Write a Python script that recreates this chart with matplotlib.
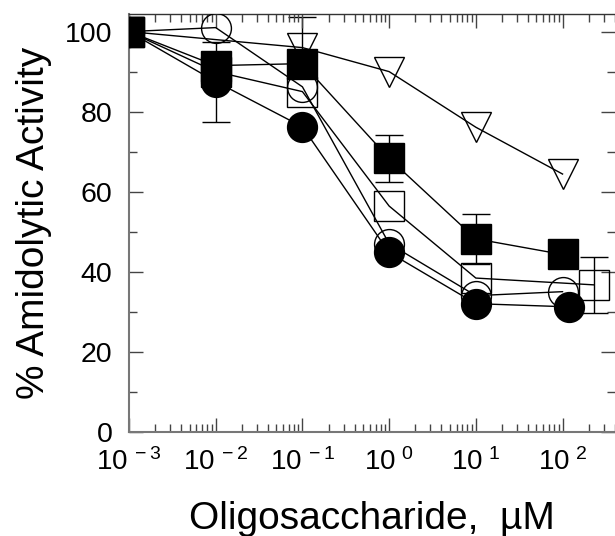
import matplotlib
matplotlib.use('Agg')
import matplotlib.pyplot as plt
from matplotlib.ticker import LogLocator, MultipleLocator, FixedLocator, FixedFormatter, NullFormatter

plt.rcParams['font.family'] = ['Liberation Sans', 'DejaVu Sans']
plt.rcParams['mathtext.fontset'] = 'custom'
plt.rcParams['mathtext.rm'] = 'Liberation Sans'
plt.rcParams['mathtext.default'] = 'regular'

# data
x_fsq = [1e-3, 1e-2, 1e-1, 1, 10, 100]
y_fsq = [100, 91.5, 92, 68.3, 48.2, 44.3]
e_fsq = [0, 0, 0, 5.9, 6.2, 0]

x_osq = [1e-3, 1e-2, 1e-1, 1, 10, 230]
y_osq = [100, 90, 85, 56.4, 38.4, 36.7]
e_osq = [0, 0, 0, 0, 0, 7]

x_oci = [1e-3, 1e-2, 1e-1, 1, 10, 100]
y_oci = [100, 101, 86.2, 47, 34, 35]
e_oci = [0, 0, 0, 0, 0, 0]

x_fci = [1e-3, 1e-2, 1e-1, 1, 10, 120]
y_fci = [100, 87.5, 76.2, 44.8, 32, 31.2]
e_fci = [0, 10, 0, 0, 0, 0]

x_tri = [1e-3, 1e-1, 1, 10, 100]
y_tri = [100, 96, 90, 76.1, 64.4]
e_tri = [0, 7.7, 0, 0, 0]

xticks = [1e-3, 1e-2, 1e-1, 1, 10, 100]
xlabels = [r'$10^{\,-3}$', r'$10^{\,-2}$', r'$10^{\,-1}$',
           r'$10^{\ 0}$', r'$10^{\ 1}$', r'$10^{\ 2}$']

fig = plt.figure(figsize=(6.15, 5.36), dpi=100)
ax = fig.add_axes([129 / 615, 104.3 / 536, 486 / 615, 417.7 / 536])

ms = 21.5


def series(x, y, e, marker, filled, z):
    ax.plot(x, y, color='black', lw=1, marker=marker, ms=ms,
            mfc='black' if filled else 'none', mec='black', mew=1, zorder=z)
    xe = [a for a, d in zip(x, e) if d > 0]
    ye = [b for b, d in zip(y, e) if d > 0]
    ee = [d for d in e if d > 0]
    if ee:
        ax.errorbar(xe, ye, yerr=ee, fmt='none', ecolor='black',
                    elinewidth=1, capsize=10, capthick=1, zorder=z - 0.5)


series(x_tri, y_tri, e_tri, 'v', False, 2)
series(x_oci, y_oci, e_oci, 'o', False, 3)
series(x_osq, y_osq, e_osq, 's', False, 3)
series(x_fci, y_fci, e_fci, 'o', True, 4)
series(x_fsq, y_fsq, e_fsq, 's', True, 5)

ax.set_xscale('log')
ax.set_xlim(1e-3, 10 ** 2.605)
ax.set_ylim(0, 104.4)

ax.xaxis.set_major_locator(FixedLocator(xticks))
ax.xaxis.set_major_formatter(FixedFormatter(xlabels))
ax.xaxis.set_minor_locator(LogLocator(base=10, subs=range(2, 10), numticks=20))
ax.xaxis.set_minor_formatter(NullFormatter())
ax.yaxis.set_major_locator(MultipleLocator(20))
ax.yaxis.set_minor_locator(MultipleLocator(10))

ax.tick_params(which='both', direction='in', top=True, right=True, color='#444444')
ax.tick_params(which='major', length=10, width=1)
ax.tick_params(which='minor', length=6, width=1)
ax.tick_params(axis='x', which='major', labelsize=20, pad=12)
ax.tick_params(axis='y', which='major', labelsize=20.5, pad=12)

for side in ['left', 'bottom']:
    ax.spines[side].set_color('#777777')
    ax.spines[side].set_linewidth(1.5)
ax.spines['top'].set_color('#333333')
ax.spines['top'].set_linewidth(1)
ax.spines['right'].set_visible(False)

ax.set_xlabel('Oligosaccharide,  \u00b5M', fontsize=28, labelpad=18)
ax.set_ylabel('% Amidolytic Activity', fontsize=28, labelpad=9)

fig.savefig('out.png', dpi=100, facecolor='white')
